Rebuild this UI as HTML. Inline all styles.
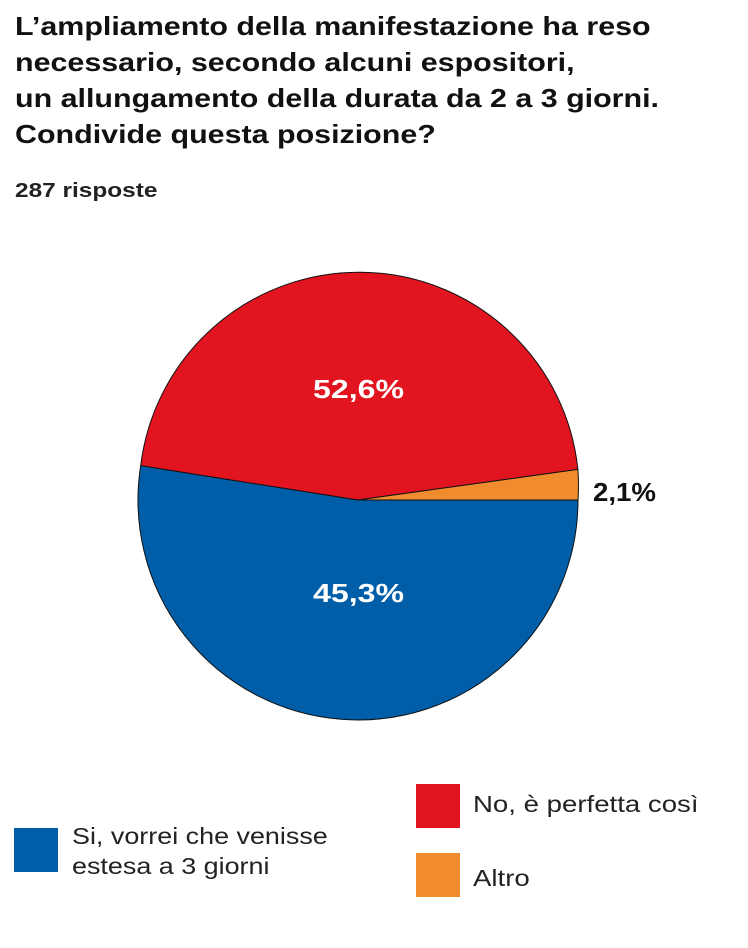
<!DOCTYPE html>
<html><head><meta charset="utf-8"><style>
body{margin:0;width:748px;height:948px;background:#fff;font-family:"Liberation Sans",Arial,sans-serif;color:#111;position:relative;overflow:hidden}
.t{position:absolute;left:15px;top:8px;font-weight:bold;font-size:26px;line-height:36px;transform:scaleX(1.17);transform-origin:0 0;white-space:nowrap}
.n{position:absolute;left:15px;top:180px;font-size:20px;font-weight:bold;color:#222;transform:scaleX(1.22);transform-origin:0 0}
.sq{position:absolute;width:44px;height:44px}
.lt{position:absolute;font-size:23px;line-height:30px;color:#222;transform:scaleX(1.2);transform-origin:0 0;white-space:nowrap}
</style></head><body>
<div class="t">L’ampliamento della manifestazione ha reso<br>necessario, secondo alcuni espositori,<br>un allungamento della durata da 2 a 3 giorni.<br>Condivide questa posizione?</div>
<div class="n">287 risposte</div>
<svg width="748" height="948" style="position:absolute;left:0;top:0">
<path d="M358,500 L578,500 A220,220 0 1 1 140.7,465.6 Z" fill="#005ea8" stroke="#111" stroke-width="1"/>
<path d="M358,500 L140.7,465.6 A220,220 0 0 1 577.9,469.4 Z" fill="#e1141f" stroke="#111" stroke-width="1"/>
<path d="M358,500 L577.9,469.4 A220,220 0 0 1 578,500 Z" fill="#f08c2e" stroke="#111" stroke-width="1"/>
<g font-family="Liberation Sans,Arial,sans-serif" font-weight="bold" font-size="26">
<text x="313" y="398" fill="#fff" textLength="91" lengthAdjust="spacingAndGlyphs">52,6%</text>
<text x="313" y="602" fill="#fff" textLength="91" lengthAdjust="spacingAndGlyphs">45,3%</text>
<text x="593" y="501" fill="#111" textLength="63" lengthAdjust="spacingAndGlyphs">2,1%</text>
</g></svg>
<div class="sq" style="left:14px;top:828px;background:#005ea8"></div>
<div class="lt" style="left:72px;top:821px;transform:scaleX(1.17)">Si, vorrei che venisse<br>estesa a 3 giorni</div>
<div class="sq" style="left:416px;top:784px;background:#e1141f"></div>
<div class="lt" style="left:473px;top:789px">No, è perfetta così</div>
<div class="sq" style="left:416px;top:853px;background:#f08c2e"></div>
<div class="lt" style="left:473px;top:863px">Altro</div>
</body></html>
